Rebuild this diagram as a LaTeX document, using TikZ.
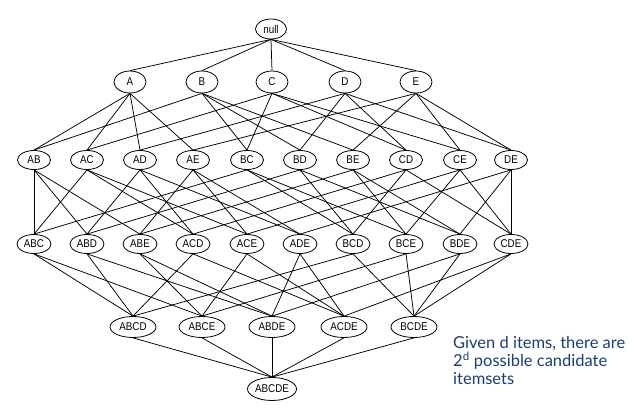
\documentclass[tikz,border=0pt]{standalone}
\usepackage{fontspec}
\setmainfont{Liberation Sans}
\newfontfamily\bluefont{Lato}
\usetikzlibrary{shapes.geometric}
\definecolor{txtblue}{HTML}{1D3C78}
\newcommand{\lbl}[1]{\scalebox{1}[1.15]{#1}}
\begin{document}
\begin{tikzpicture}[x=1pt,y=-1pt,
  itm/.style={draw,ellipse,inner sep=0pt,line width=0.8pt,font=\fontsize{9.8}{11}\selectfont,minimum height=20pt},
  l0/.style={itm,minimum width=31pt},
  l1/.style={itm,minimum width=32pt,minimum height=22pt},
  l2/.style={itm,minimum width=33pt,minimum height=19pt},
  l3/.style={itm,minimum width=34pt,minimum height=19pt},
  l4/.style={itm,minimum width=46pt,minimum height=21pt},
  l5/.style={itm,minimum width=49pt,minimum height=23pt},
  edge/.style={line width=0.75pt},
  captxt/.style={anchor=base west,inner sep=0pt,text=txtblue,font=\bluefont\fontsize{16.5}{18}\selectfont}]
\useasboundingbox (0,0) rectangle (640,411);
\node[l0] (n) at (271,29) {\lbl{null}};
\foreach \nm/\x in {A/130,B/202,C/272,D/345,E/416}
  \node[l1] (\nm) at (\x,82) {\lbl{\nm}};
\foreach \nm/\x in {AB/34,AC/87,AD/140,AE/193,BC/247,BD/300,BE/353,CD/406,CE/460,DE/511}
  \node[l2] (\nm) at (\x,160) {\lbl{\nm}};
\foreach \nm/\x in {ABC/34,ABD/87,ABE/140,ACD/193,ACE/247,ADE/300,BCD/353,BCE/406,BDE/460,CDE/511}
  \node[l3] (\nm) at (\x,244) {\lbl{\nm}};
\foreach \nm/\x in {ABCD/133,ABCE/202,ABDE/272,ACDE/344,BCDE/414}
  \node[l4] (\nm) at (\x,327) {\lbl{\nm}};
\node[l5] (ABCDE) at (272,389) {\lbl{ABCDE}};
\foreach \b in {A,B,C,D,E}
  \draw[edge] (n.south) -- (\b.north);
\foreach \a/\b in {A/AB,B/AB,A/AC,C/AC,A/AD,D/AD,A/AE,E/AE,B/BC,C/BC,B/BD,D/BD,B/BE,E/BE,C/CD,D/CD,C/CE,E/CE,D/DE,E/DE}
  \draw[edge] (\a.south) -- (\b.north);
\foreach \a/\b in {AB/ABC,AC/ABC,BC/ABC,AB/ABD,AD/ABD,BD/ABD,AB/ABE,AE/ABE,BE/ABE,AC/ACD,AD/ACD,CD/ACD,AC/ACE,AE/ACE,CE/ACE,AD/ADE,AE/ADE,DE/ADE,BC/BCD,BD/BCD,CD/BCD,BC/BCE,BE/BCE,CE/BCE,BD/BDE,BE/BDE,DE/BDE,CD/CDE,CE/CDE,DE/CDE}
  \draw[edge] (\a.south) -- (\b.north);
\foreach \a/\b in {ABC/ABCD,ABD/ABCD,ACD/ABCD,BCD/ABCD,ABC/ABCE,ABE/ABCE,ACE/ABCE,BCE/ABCE,ABD/ABDE,ABE/ABDE,ADE/ABDE,BDE/ABDE,ACD/ACDE,ACE/ACDE,ADE/ACDE,CDE/ACDE,BCD/BCDE,BCE/BCDE,BDE/BCDE,CDE/BCDE}
  \draw[edge] (\a.south) -- (\b.north);
\foreach \a in {ABCD,ABCE,ABDE,ACDE,BCDE}
  \draw[edge] (\a.south) -- (ABCDE.north);
\node[captxt] (cap1) at (453,349) {Given d items, there are};
\node[captxt] (cap2) at (453,367) {2\textsuperscript{d} possible candidate};
\node[captxt] (cap3) at (453,385) {itemsets};
\end{tikzpicture}
\end{document}
